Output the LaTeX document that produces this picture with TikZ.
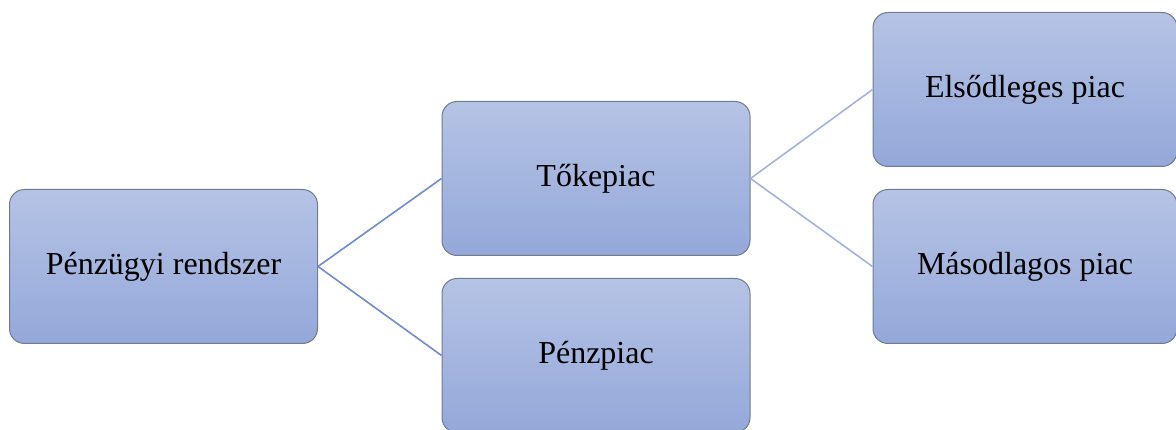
\documentclass[tikz,border=0pt]{standalone}
\usepackage{fontspec}
\setmainfont{Liberation Serif}
\definecolor{boxtop}{HTML}{B5C3E5}
\definecolor{boxbot}{HTML}{94A8D9}
\definecolor{boxline}{HTML}{6F7C8E}
\definecolor{linkdark}{HTML}{6F8CD0}
\definecolor{linklight}{HTML}{A3B3DD}
\tikzset{
  mbox/.style={rectangle, rounded corners=15pt, draw=boxline, line width=1pt,
    top color=boxtop, bottom color=boxbot, minimum width=308pt, minimum height=154pt,
    font=\fontsize{32}{38}\selectfont, inner sep=0pt},
  darklink/.style={draw=linkdark, line width=1.6pt},
  lightlink/.style={draw=linklight, line width=1.6pt}
}
\begin{document}
\begin{tikzpicture}[x=1pt,y=-1pt]
\useasboundingbox (0,0) rectangle (1176,430);
\node[mbox] (A) at (163.5,266.5) {Pénzügyi rendszer};
\node[mbox] (B) at (596,178.5) {Tőkepiac};
\node[mbox] (C) at (596,355.5) {Pénzpiac};
\node[mbox, minimum width=304pt] (D) at (1025,89.5) {Elsődleges piac};
\node[mbox, minimum width=304pt] (E) at (1025,266.5) {Másodlagos piac};
\draw[darklink] (A.east) -- (B.west);
\draw[darklink] (A.east) -- (C.west);
\draw[lightlink] (B.east) -- (D.west);
\draw[lightlink] (B.east) -- (E.west);
\end{tikzpicture}
\end{document}
